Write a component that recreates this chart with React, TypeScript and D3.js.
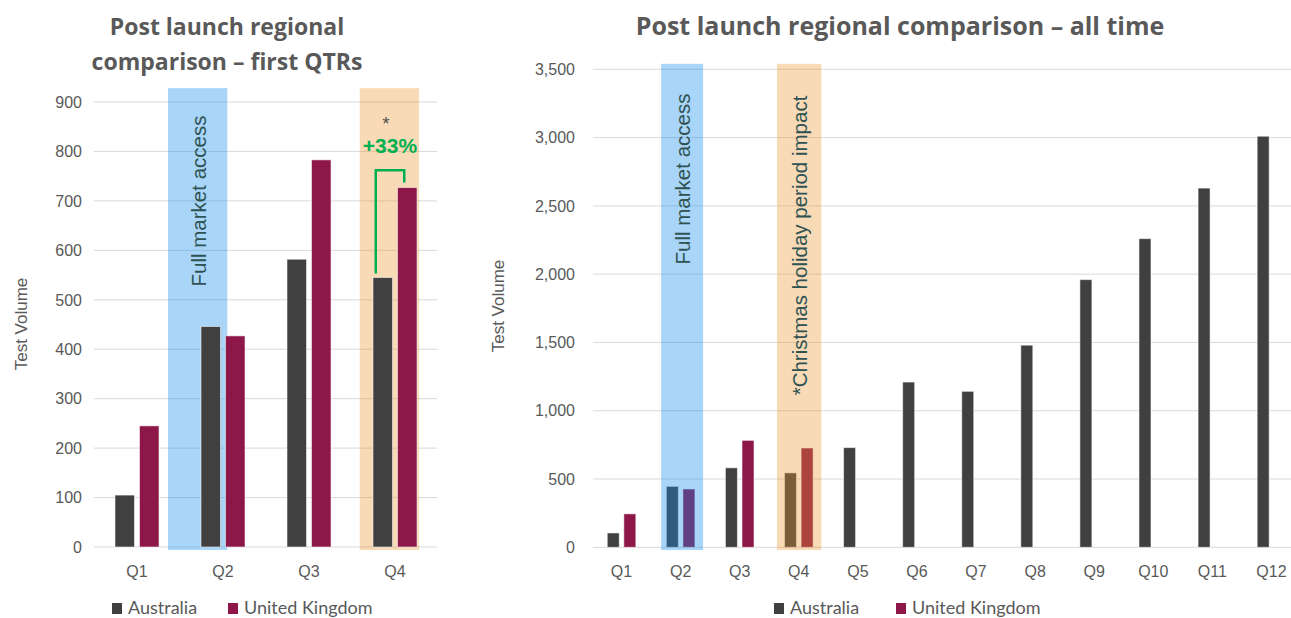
import React from "react";
import * as d3 from "d3";

// ---- Data ----
const quartersFirst = ["Q1", "Q2", "Q3", "Q4"];
const quartersAll = ["Q1", "Q2", "Q3", "Q4", "Q5", "Q6", "Q7", "Q8", "Q9", "Q10", "Q11", "Q12"];
const australia = [105, 446, 582, 545, 730, 1210, 1142, 1480, 1960, 2260, 2630, 3010];
const unitedKingdom = [245, 427, 783, 727];
const seriesNames = ["Australia", "United Kingdom"];
const leftTicks = [0, 100, 200, 300, 400, 500, 600, 700, 800, 900];
const rightTicks = [0, 500, 1000, 1500, 2000, 2500, 3000, 3500];

const C_AUS = "#404040";
const C_UK = "#8C1748";
const C_BLUE = "rgb(13,138,235)";
const C_ORANGE = "rgb(235,149,46)";
const GRID = "#d9d9d9";
const TXT = "#595959";
const NOTE = "#2f5252";
const GREEN = "#00B050";
const SANS = "'Liberation Sans', Arial, sans-serif";
const TITLE = "'Open Sans', Lato, sans-serif";
const LEG = "Lato, 'Open Sans', sans-serif";

function Legend({ x1, x2 }: { x1: number; x2: number }) {
  const xs = [x1, x2];
  return (
    <g>
      {seriesNames.map((n, i) => (
        <g key={n}>
          <rect x={xs[i]} y={603} width={10} height={11} fill={i === 0 ? C_AUS : C_UK} />
          <text x={xs[i] + 16} y={613.5} fontFamily={LEG} fontSize={18} fill={TXT}>
            {n}
          </text>
        </g>
      ))}
    </g>
  );
}

function LeftChart() {
  const data = quartersFirst.map((q, i) => ({ q, aus: australia[i], uk: unitedKingdom[i] }));
  const x = d3.scaleBand<string>().domain(quartersFirst).range([94, 438]);
  const y = d3.scaleLinear().domain([0, 900]).range([547, 102]);
  const bw = x.bandwidth();
  const barW = bw * 0.227;
  const gap = bw * 0.058;
  const cx = (q: string) => (x(q) as number) + bw / 2;
  const bands = [
    { q: "Q2", f0: -0.14, f1: 0.55, color: C_BLUE, op: 0.36 },
    { q: "Q4", f0: 0.09, f1: 0.78, color: C_ORANGE, op: 0.35 },
  ];
  const q4 = "Q4";
  const ausX = cx(q4) - gap / 2 - barW / 2 - 7;
  const ukX = cx(q4) + gap / 2 + barW / 2 - 3;
  const bracketTop = y(762);
  return (
    <g>
      <text textAnchor="middle" fontFamily={TITLE} fontWeight={700} fontSize={23} fill={TXT}>
        <tspan x={227} y={35}>Post launch regional</tspan>
        <tspan x={227} y={70}>comparison – first QTRs</tspan>
      </text>
      {leftTicks.map((t) => (
        <g key={t}>
          <line x1={94} x2={437} y1={y(t)} y2={y(t)} stroke={GRID} strokeWidth={1} />
          <text x={82} y={y(t)} dy="0.36em" textAnchor="end" fontFamily={SANS} fontSize={16} fill={TXT}>
            {t}
          </text>
        </g>
      ))}
      {bands.map((b) => (
        <rect
          key={b.q}
          x={(x(b.q) as number) + b.f0 * bw}
          y={y(928)}
          width={(b.f1 - b.f0) * bw}
          height={y(-6) - y(928)}
          fill={b.color}
          opacity={b.op}
        />
      ))}
      {data.map((d) => (
        <g key={d.q}>
          <rect x={cx(d.q) - gap / 2 - barW} y={y(d.aus)} width={barW} height={y(0) - y(d.aus)} fill={C_AUS} stroke="rgba(255,255,255,0.55)" strokeWidth={1} />
          <rect x={cx(d.q) + gap / 2} y={y(d.uk)} width={barW} height={y(0) - y(d.uk)} fill={C_UK} stroke="rgba(255,255,255,0.55)" strokeWidth={1} />
          <text x={cx(d.q)} y={571} dy="0.36em" textAnchor="middle" fontFamily={SANS} fontSize={16} fill={TXT}>
            {d.q}
          </text>
        </g>
      ))}
      <text transform={`translate(199,201) rotate(-90)`} textAnchor="middle" dy="0.36em" fontFamily={SANS} fontSize={20.5} fill={NOTE}>
        Full market access
      </text>
      <text x={386} y={130} textAnchor="middle" fontFamily={SANS} fontSize={19} fill="#505050">*</text>
      <text x={390} y={153} textAnchor="middle" fontFamily={SANS} fontWeight={700} fontSize={21} fill={GREEN}>
        +33%
      </text>
      <path
        d={`M${ausX},${y(553)} V${bracketTop} H${ukX} V${y(737)}`}
        fill="none"
        stroke={GREEN}
        strokeWidth={2.5}
      />
      <text transform={`translate(21,324) rotate(-90)`} textAnchor="middle" dy="0.36em" fontFamily={SANS} fontSize={17} fill={TXT}>
        Test Volume
      </text>
      <Legend x1={112} x2={228} />
    </g>
  );
}

function RightChart() {
  const data = quartersAll.map((q, i) => ({ q, aus: australia[i], uk: i < unitedKingdom.length ? unitedKingdom[i] : null }));
  const x = d3.scaleBand<string>().domain(quartersAll).range([592, 1301]);
  const y = d3.scaleLinear().domain([0, 3500]).range([547.3, 69.3]);
  const bw = x.bandwidth();
  const barW = bw * 0.203;
  const gap = bw * 0.078;
  const cx = (q: string) => (x(q) as number) + bw / 2;
  const fmt = d3.format(",");
  const bands = [
    { q: "Q2", f0: 0.17, f1: 0.88, color: C_BLUE, op: 0.36 },
    { q: "Q4", f0: 0.13, f1: 0.88, color: C_ORANGE, op: 0.35 },
  ];
  return (
    <g>
      <text x={900} y={35} textAnchor="middle" fontFamily={TITLE} fontWeight={700} fontSize={25} fill={TXT}>
        Post launch regional comparison – all time
      </text>
      {rightTicks.map((t) => (
        <g key={t}>
          <line x1={593} x2={1291} y1={y(t)} y2={y(t)} stroke={GRID} strokeWidth={1} />
          <text x={575} y={y(t)} dy="0.36em" textAnchor="end" fontFamily={SANS} fontSize={16} fill={TXT}>
            {fmt(t)}
          </text>
        </g>
      ))}
      {data.map((d) => (
        <g key={d.q}>
          <rect x={cx(d.q) - gap / 2 - barW} y={y(d.aus)} width={barW} height={y(0) - y(d.aus)} fill={C_AUS} stroke="rgba(255,255,255,0.55)" strokeWidth={1} />
          {d.uk !== null && (
            <rect x={cx(d.q) + gap / 2} y={y(d.uk)} width={barW} height={y(0) - y(d.uk)} fill={C_UK} stroke="rgba(255,255,255,0.55)" strokeWidth={1} />
          )}
          <text x={cx(d.q)} y={571} dy="0.36em" textAnchor="middle" fontFamily={SANS} fontSize={16} fill={TXT}>
            {d.q}
          </text>
        </g>
      ))}
      {bands.map((b) => (
        <rect
          key={b.q}
          x={(x(b.q) as number) + b.f0 * bw}
          y={y(3540)}
          width={(b.f1 - b.f0) * bw}
          height={y(-20) - y(3540)}
          fill={b.color}
          opacity={b.op}
        />
      ))}
      <text transform={`translate(683,179) rotate(-90)`} textAnchor="middle" dy="0.36em" fontFamily={SANS} fontSize={20.5} fill={NOTE}>
        Full market access
      </text>
      <text transform={`translate(800,245.5) rotate(-90)`} textAnchor="middle" dy="0.36em" fontFamily={SANS} fontSize={20.5} fill={NOTE}>
        *Christmas holiday period impact
      </text>
      <text transform={`translate(498,306) rotate(-90)`} textAnchor="middle" dy="0.36em" fontFamily={SANS} fontSize={17} fill={TXT}>
        Test Volume
      </text>
      <Legend x1={774} x2={896} />
    </g>
  );
}

export default function App() {
  return (
    <svg
      width={1291}
      height={618}
      style={{ position: "absolute", left: 0, top: 0, background: "#fff" }}
    >
      <rect x={0} y={0} width={1291} height={618} fill="#fff" />
      <LeftChart />
      <RightChart />
    </svg>
  );
}
